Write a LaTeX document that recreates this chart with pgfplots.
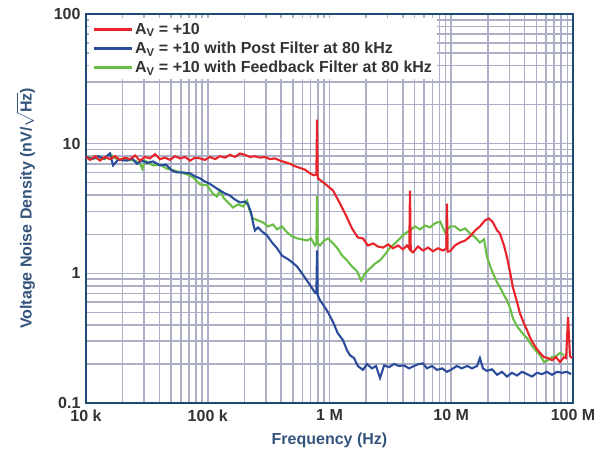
\documentclass[border=0pt]{standalone}
\usepackage{fontspec}
\setmainfont{Liberation Sans}
\usepackage{pgfplots}
\pgfplotsset{compat=1.18}

\definecolor{cRed}{HTML}{E8232A}
\definecolor{cBlue}{HTML}{2B4C9B}
\definecolor{cGreen}{HTML}{6BBE45}
\definecolor{cGrid}{HTML}{ADAFC6}
\definecolor{cFrame}{HTML}{1F4A73}
\definecolor{cLabel}{HTML}{34547C}
\definecolor{cTick}{HTML}{333333}

\begin{document}
\begin{tikzpicture}
% fix the page to the reference size
\path (-86pt,-52pt) rectangle (523pt,403pt);
\begin{axis}[
    xmode=log, ymode=log,
    scale only axis,
    width=487pt, height=389pt,
    at={(0,0)}, anchor=south west,
    xmin=1e4, xmax=1e8,
    ymin=0.1, ymax=100,
    xtick={1e4,1e5,1e6,1e7,1e8},
    xticklabels={10 k,100 k,1 M,10 M,100 M},
    ytick={0.1,1,10,100},
    yticklabels={0.1,1,10,100},
    grid=both,
    major grid style={draw=cGrid, line width=1.6pt},
    minor grid style={draw=cGrid, line width=1.6pt},
    major tick length=0pt, minor tick length=0pt,
    axis line style={draw=cFrame, line width=2.8pt},
    tick label style={font=\fontsize{16}{18}\selectfont\bfseries, text=cTick},
    xticklabel style={yshift=-3pt},
    yticklabel style={xshift=-2pt},
    xlabel={Frequency (Hz)},
    ylabel={Voltage Noise Density (nV/$\sqrt{\mbox{\bfseries Hz}}$)},
    label style={font=\fontsize{16}{18}\selectfont\bfseries, text=cLabel},
    xlabel style={at={(axis description cs:0.5,-0.095)}, anchor=center},
    ylabel style={at={(axis description cs:-0.124,0.5)}, anchor=center},
    legend style={at={(0,1)}, anchor=north west, xshift=3pt, yshift=-4pt,
        draw=none, fill=white, font=\fontsize{16}{18}\selectfont\bfseries,
        text=cTick, row sep=2pt, inner sep=3pt},
    legend cell align=left,
    legend image code/.code={\draw[#1] (0pt,0pt) -- (38pt,0pt);},
]
\addlegendimage{cRed, line width=2.8pt}
\addlegendentry{A\textsubscript{V} = +10}
\addlegendimage{cBlue, line width=2.8pt}
\addlegendentry{A\textsubscript{V} = +10 with Post Filter at 80 kHz}
\addlegendimage{cGreen, line width=2.8pt}
\addlegendentry{A\textsubscript{V} = +10 with Feedback Filter at 80 kHz}

% green: feedback filter
\addplot[cGreen, line width=2.1pt, forget plot] coordinates {
(1e4,7.9) (1.19e4,7.7) (1.43e4,7.6) (1.57e4,8.4) (1.73e4,7.7) (2.09e4,7.5)
(2.53e4,7.4) (2.78e4,7.0) (2.90e4,6.4) (3.05e4,7.4) (3.55e4,6.8) (4.05e4,6.9)
(4.63e4,6.4) (5.38e4,6.2) (5.92e4,6.0) (6.76e4,5.8) (7.57e4,5.5) (8.64e4,4.85)
(9.86e4,4.77) (1.10e5,4.13) (1.19e5,3.91) (1.26e5,4.35) (1.36e5,3.78) (1.47e5,3.52)
(1.61e5,3.22) (1.77e5,3.40) (1.95e5,3.28) (2.10e5,3.64) (2.22e5,3.00) (2.35e5,2.65)
(2.59e5,2.56) (2.84e5,2.47) (3.13e5,2.30) (3.44e5,2.38) (3.71e5,2.18) (4.07e5,2.30)
(4.48e5,2.07) (4.92e5,1.93) (5.41e5,1.86) (5.94e5,1.83) (6.53e5,1.79) (7.05e5,1.86)
(7.60e5,1.64) (7.80e5,1.70) (7.90e5,3.98) (8.00e5,1.70) (8.36e5,1.64) (9.02e5,1.79)
(9.73e5,1.86) (1.07e6,1.70) (1.15e6,1.58) (1.27e6,1.37) (1.39e6,1.26) (1.53e6,1.13)
(1.68e6,1.04) (1.82e6,0.88) (1.96e6,1.00) (2.15e6,1.09) (2.37e6,1.19) (2.60e6,1.26)
(2.86e6,1.40) (3.14e6,1.58) (3.45e6,1.70) (3.79e6,1.86) (4.17e6,2.03) (4.58e6,2.14)
(5.04e6,2.30) (5.54e6,2.18) (6.08e6,2.34) (6.68e6,2.26) (7.36e6,2.43) (8.09e6,2.51)
(8.89e6,2.07) (9.77e6,2.30) (1.07e7,2.30) (1.18e7,2.14) (1.30e7,2.22) (1.43e7,2.03)
(1.57e7,1.89) (1.72e7,1.73) (1.86e7,1.83) (1.96e7,1.35) (2.08e7,1.15) (2.20e7,1.00)
(2.38e7,0.85) (2.51e7,0.78) (2.71e7,0.68) (2.87e7,0.62) (3.04e7,0.54) (3.21e7,0.45)
(3.47e7,0.39) (3.67e7,0.365) (3.96e7,0.333) (4.19e7,0.316) (4.44e7,0.29) (4.69e7,0.27)
(5.06e7,0.247) (5.36e7,0.234) (5.78e7,0.207) (6.24e7,0.214) (6.72e7,0.226) (7.25e7,0.23)
(7.82e7,0.243) (8.44e7,0.234)
};

% blue: post filter
\addplot[cBlue, line width=2.1pt, forget plot] coordinates {
(1e4,7.9) (1.12e4,7.6) (1.26e4,8.0) (1.41e4,7.7) (1.57e4,8.4) (1.67e4,6.8)
(1.83e4,7.5) (2.17e4,7.4) (2.39e4,7.7) (2.62e4,7.0) (2.90e4,7.4) (3.17e4,7.1)
(3.55e4,7.3) (4.05e4,6.8) (4.54e4,6.9) (5.08e4,6.2) (5.58e4,6.0) (6.26e4,6.0)
(7.15e4,5.9) (7.85e4,5.6) (8.64e4,5.4) (9.49e4,5.1) (1.04e5,4.9) (1.15e5,4.6)
(1.26e5,4.35) (1.39e5,4.13) (1.52e5,3.98) (1.67e5,3.71) (1.84e5,3.52) (2.02e5,3.58)
(2.14e5,3.40) (2.27e5,2.94) (2.35e5,2.47) (2.44e5,2.14) (2.59e5,2.26) (2.79e5,2.10)
(3.07e5,1.96) (3.37e5,1.73) (3.71e5,1.56) (4.07e5,1.37) (4.48e5,1.30) (4.92e5,1.22)
(5.41e5,1.13) (5.94e5,1.00) (6.53e5,0.88) (7.05e5,0.79) (7.60e5,0.71) (7.80e5,0.70)
(7.90e5,1.50) (8.00e5,0.68) (8.36e5,0.62) (9.02e5,0.56) (9.73e5,0.50) (1.07e6,0.42)
(1.17e6,0.345) (1.29e6,0.305) (1.39e6,0.256) (1.47e6,0.234) (1.59e6,0.222) (1.71e6,0.193)
(1.88e6,0.180) (2.03e6,0.200) (2.23e6,0.185) (2.41e6,0.193) (2.60e6,0.156) (2.81e6,0.195)
(3.08e6,0.189) (3.39e6,0.200) (3.72e6,0.193) (4.09e6,0.195) (4.50e6,0.185) (4.94e6,0.193)
(5.43e6,0.200) (5.86e6,0.202) (6.32e6,0.185) (6.95e6,0.193) (7.64e6,0.180) (8.40e6,0.185)
(9.22e6,0.174) (1.01e7,0.182) (1.11e7,0.193) (1.22e7,0.185) (1.35e7,0.193) (1.48e7,0.185)
(1.63e7,0.193) (1.72e7,0.222) (1.82e7,0.185) (1.96e7,0.177) (2.16e7,0.182) (2.38e7,0.165)
(2.61e7,0.174) (2.87e7,0.160) (3.15e7,0.171) (3.47e7,0.163) (3.81e7,0.174) (4.19e7,0.167)
(4.60e7,0.160) (5.06e7,0.171) (5.56e7,0.167) (6.11e7,0.174) (6.72e7,0.165) (7.40e7,0.174)
(8.13e7,0.171) (8.93e7,0.174) (9.64e7,0.167)
};

% red: Av = +10
\addplot[cRed, line width=2.1pt, forget plot] coordinates {
(1e4,7.9) (1.08e4,7.5) (1.19e4,8.0) (1.30e4,7.4) (1.43e4,7.9) (1.57e4,7.6)
(1.73e4,8.0) (1.90e4,7.5) (2.09e4,7.8) (2.30e4,7.6) (2.53e4,8.1) (2.78e4,7.4)
(3.05e4,7.9) (3.35e4,7.7) (3.69e4,8.3) (4.05e4,7.6) (4.46e4,7.8) (4.90e4,7.5)
(5.38e4,8.0) (5.92e4,7.7) (6.50e4,7.9) (7.15e4,7.4) (7.85e4,7.8) (8.64e4,7.7)
(9.49e4,7.5) (1.04e5,7.9) (1.15e5,7.6) (1.26e5,8.0) (1.39e5,7.8) (1.52e5,8.2)
(1.67e5,7.9) (1.84e5,8.4) (2.02e5,8.2) (2.22e5,7.9) (2.44e5,8.0) (2.69e5,7.8)
(2.95e5,7.9) (3.24e5,7.6) (3.57e5,7.7) (3.92e5,7.4) (4.31e5,7.2) (4.74e5,7.0)
(5.21e5,6.7) (5.73e5,6.5) (6.30e5,6.3) (6.92e5,5.9) (7.46e5,5.7) (7.80e5,5.8)
(7.90e5,15.3) (8.00e5,5.6) (8.05e5,5.4) (9.19e5,4.9) (1.07e6,4.35) (1.22e6,3.45)
(1.39e6,2.70) (1.53e6,2.22) (1.71e6,1.89) (1.88e6,1.86) (2.07e6,1.64) (2.28e6,1.70)
(2.50e6,1.61) (2.75e6,1.58) (3.03e6,1.67) (3.32e6,1.56) (3.66e6,1.64) (4.02e6,1.53)
(4.33e6,1.64) (4.52e6,1.55) (4.58e6,4.35) (4.65e6,1.50) (4.85e6,1.45) (5.33e6,1.61)
(5.86e6,1.50) (6.44e6,1.58) (7.08e6,1.48) (7.78e6,1.56) (8.55e6,1.50) (9.10e6,1.55)
(9.22e6,3.45) (9.35e6,1.47) (9.77e6,1.48) (1.07e7,1.64) (1.18e7,1.73) (1.30e7,1.79)
(1.43e7,1.93) (1.57e7,2.14) (1.72e7,2.30) (1.89e7,2.56) (2.04e7,2.65) (2.20e7,2.47)
(2.38e7,2.14) (2.51e7,2.03) (2.71e7,1.64) (2.87e7,1.33) (3.04e7,1.02) (3.21e7,0.78)
(3.47e7,0.60) (3.67e7,0.49) (3.96e7,0.41) (4.19e7,0.365) (4.44e7,0.32) (4.69e7,0.29)
(5.06e7,0.26) (5.36e7,0.243) (5.78e7,0.226) (6.24e7,0.222) (6.72e7,0.214) (7.25e7,0.226)
(7.82e7,0.207) (8.44e7,0.226) (8.77e7,0.222) (9.10e7,0.46) (9.44e7,0.23) (9.81e7,0.222)
};
\end{axis}
\end{tikzpicture}
\end{document}
